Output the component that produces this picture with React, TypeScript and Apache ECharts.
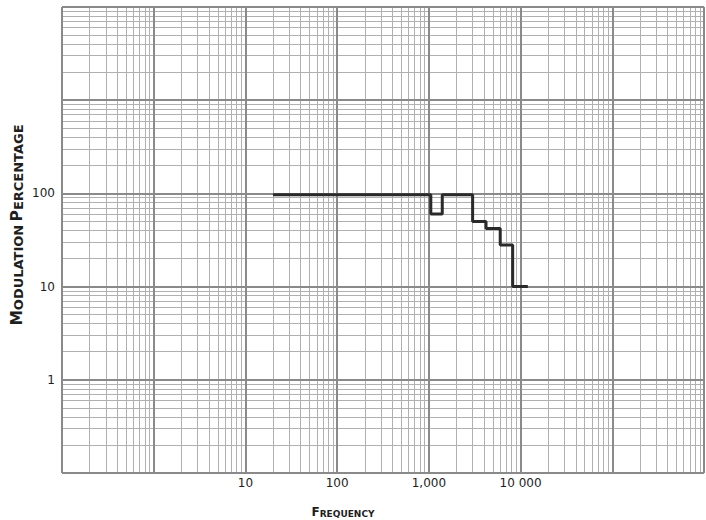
import React, { useEffect, useRef } from "react";
import * as echarts from "echarts";

// Step response
const freqs = [20, 1050, 1400, 3000, 4200, 6000, 8200, 12000];
const modulation = [97, 60, 97, 50, 42, 28, 10, 10];

// Axis ranges (decades)
const xDecades = [0.1, 1, 10, 100, 1000, 10000, 100000, 1000000];
const yDecades = [0.1, 1, 10, 100, 1000, 10000];

// Tick labels
const xTickValues = [10, 100, 1000, 10000];
const xTickLabels = ["10", "100", "1,000", "10 000"];
const yTickValues = [1, 10, 100];
const yTickLabels = ["1", "10", "100"];

const minorSteps = [2, 3, 4, 5, 6, 7, 8, 9];

function minorLines(decades: number[]) {
  const out: number[] = [];
  for (let i = 0; i < decades.length - 1; i++) {
    for (const m of minorSteps) out.push(decades[i] * m);
  }
  return out;
}

function labelFor(v: number, values: number[], labels: string[]) {
  const e = Math.round(Math.log10(v) * 1000) / 1000;
  for (let i = 0; i < values.length; i++) {
    if (Math.abs(Math.log10(values[i]) - e) < 1e-3) return labels[i];
  }
  return "";
}

export default function App() {
  const ref = useRef<HTMLDivElement>(null);
  useEffect(() => {
    document.body.style.margin = "0";
    const chart = echarts.init(ref.current!, null, { renderer: "svg" });
    const minorX = minorLines(xDecades);
    const minorY = minorLines(yDecades);
    const gridStyle = (color: string, width: number) => ({
      silent: true,
      symbol: ["none", "none"],
      label: { show: false },
      emphasis: { disabled: true },
      animation: false,
      lineStyle: { type: "solid", color, width },
    });
    chart.setOption({
      animation: false,
      backgroundColor: "#ffffff",
      grid: { left: 62, right: 2, top: 7, bottom: 47, containLabel: false },
      xAxis: {
        type: "log",
        logBase: 10,
        min: 0.1,
        max: 1000000,
        splitNumber: 7,
        axisLine: { show: false },
        axisTick: { show: false },
        splitLine: { show: false },
        axisLabel: {
          margin: 4,
          fontFamily: "DejaVu Sans",
          fontSize: 12,
          color: "#1e1e1e",
          showMinLabel: false,
          showMaxLabel: false,
          formatter: (v: number) => labelFor(v, xTickValues, xTickLabels),
        },
      },
      yAxis: {
        type: "log",
        logBase: 10,
        min: 0.1,
        max: 10000,
        splitNumber: 5,
        axisLine: { show: false },
        axisTick: { show: false },
        splitLine: { show: false },
        axisLabel: {
          margin: 7,
          fontFamily: "DejaVu Sans",
          fontSize: 12,
          color: "#1e1e1e",
          formatter: (v: number) => labelFor(v, yTickValues, yTickLabels),
        },
      },
      graphic: [
        {
          type: "text",
          x: 17,
          y: 225,
          rotation: Math.PI / 2,
          style: {
            text: "{b|M}{s|ODULATION} {b|P}{s|ERCENTAGE}",
            align: "center",
            verticalAlign: "middle",
            fill: "#1e1e1e",
            rich: {
              b: { fontFamily: "DejaVu Sans", fontWeight: "bold", fontSize: 15.5, lineHeight: 15.5, verticalAlign: "bottom", fill: "#1e1e1e" },
              s: { fontFamily: "DejaVu Sans", fontWeight: "bold", fontSize: 13, lineHeight: 13, verticalAlign: "bottom", fill: "#1e1e1e" },
            },
          },
        },
        {
          type: "text",
          x: 343,
          y: 512,
          style: {
            text: "{b|F}{s|REQUENCY}",
            align: "center",
            verticalAlign: "middle",
            fill: "#1e1e1e",
            rich: {
              b: { fontFamily: "DejaVu Sans", fontWeight: "bold", fontSize: 12, lineHeight: 12, verticalAlign: "bottom", fill: "#1e1e1e" },
              s: { fontFamily: "DejaVu Sans", fontWeight: "bold", fontSize: 9, lineHeight: 9, verticalAlign: "bottom", fill: "#1e1e1e" },
            },
          },
        },
      ],
      series: [
        {
          type: "line",
          data: [],
          z: 1,
          markLine: {
            ...gridStyle("#b0b0b0", 1),
            data: [
              ...minorX.map((v) => ({ xAxis: v })),
              ...minorY.map((v) => ({ yAxis: v })),
            ],
          },
        },
        {
          type: "line",
          data: [],
          z: 2,
          markLine: {
            ...gridStyle("#8a8a8a", 2),
            data: [
              ...xDecades.map((v) => ({ xAxis: v })),
              ...yDecades.map((v) => ({ yAxis: v })),
            ],
          },
        },
        {
          type: "line",
          z: 5,
          step: "end",
          showSymbol: false,
          symbol: "none",
          lineStyle: { color: "#2a2a2a", width: 3 },
          data: freqs.map((f, i) => [f, modulation[i]]),
        },
      ],
    });
    return () => chart.dispose();
  }, []);
  return (
    <div
      ref={ref}
      style={{ position: "fixed", left: 0, top: 0, width: 706, height: 520 }}
    />
  );
}
